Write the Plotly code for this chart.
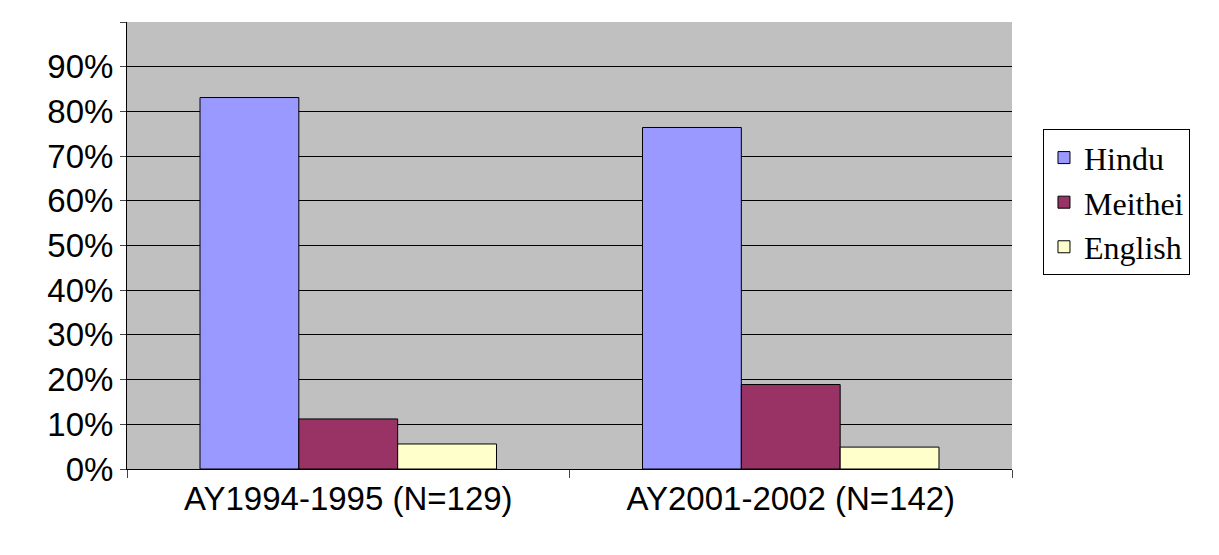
import plotly.graph_objects as go

categories = ["AY1994-1995 (N=129)", "AY2001-2002 (N=142)"]
hindu = [83.1, 76.4]
meithei = [11.2, 18.9]
english = [5.6, 4.9]
ticks = [f"{v}%" for v in range(0, 101, 10)]

fig = go.Figure()
for name, vals, col in [("Hindu", hindu, "#9999FF"), ("Meithei", meithei, "#993366"), ("English", english, "#FFFFCC")]:
    fig.add_bar(x=categories, y=vals, name=name, marker=dict(color=col, line=dict(color="black", width=1)))

fig.update_layout(
    width=1219, height=555, barmode="group", bargap=0.33, bargroupgap=0,
    plot_bgcolor="#C0C0C0", paper_bgcolor="white",
    margin=dict(l=119, r=215, t=14, b=94, autoexpand=False),
    font=dict(family="Liberation Sans, Arial", size=33, color="black"),
    legend=dict(x=1.035, y=0.76, xanchor="left", yanchor="top", bordercolor="black", borderwidth=1,
                font=dict(family="Liberation Serif, Times New Roman", size=32), tracegroupgap=0),
    showlegend=True,
)
fig.update_yaxes(range=[0, 100], tickvals=list(range(0, 101, 10)), ticktext=ticks,
                 showgrid=True, gridcolor="black", gridwidth=1, ticks="outside", ticklen=6,
                 showline=True, linecolor="black", zeroline=False)
fig.update_xaxes(showline=True, linecolor="black", ticks="outside", tickson="boundaries", ticklen=8)
fig.write_html("out.html")
